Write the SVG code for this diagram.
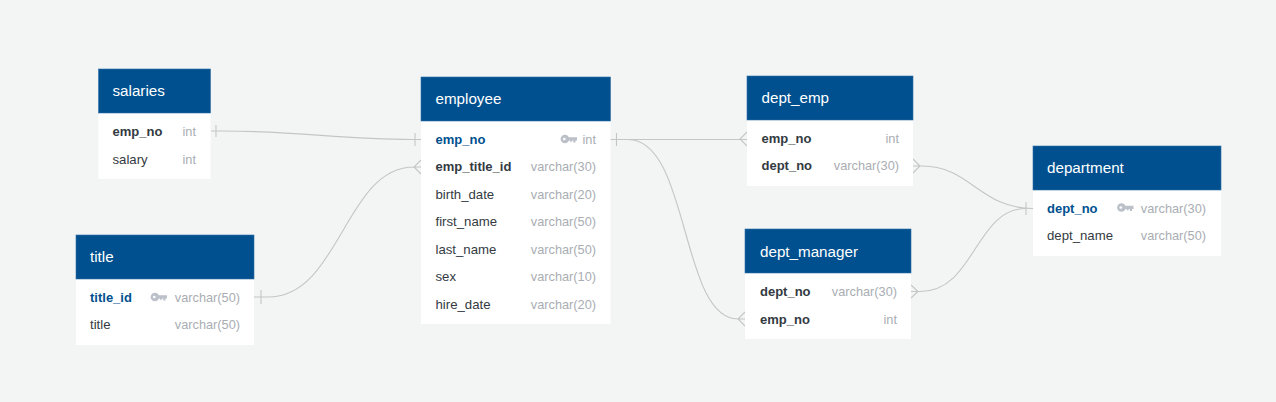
<svg xmlns="http://www.w3.org/2000/svg" width="1276" height="402" viewBox="0 0 1276 402">
<defs>
<style>
text{font-family:"Liberation Sans",Arial,sans-serif;font-size:13.2px;fill:#333a42}
.h{fill:#00508f;stroke:#2f6ea6;stroke-width:.6}
.b{fill:#fff}
.t{fill:#fff;font-size:15.2px}
.k{font-weight:bold;font-size:13px}
.p{font-weight:bold;font-size:13px;fill:#00508f}
.y{fill:#a9adb3;text-anchor:end;font-size:12.75px}
.c{fill:none;stroke:#c4c6c6;stroke-width:1.1}
.i{fill:#bcc0c8}
</style>
<g id="key"><circle cx="4.4" cy="0" r="4.300" class="i"/><circle cx="3.800" cy="0" r="1.300" fill="#fff"/><path class="i" d="M7 -1.800H16.500V1.400H15V3.400H12.800V1.400H11.600V2.800H9.600V1.400H7Z"/></g>
</defs>
<rect width="1276" height="402" fill="#f3f5f4"/>
<g id="connectors">
<path class="c" d="M211 131H222C300 131 340 139.500 412 139.500H421M216 125V137M415 133V146"/>
<path class="c" d="M254 297H268C340 297 345 167 414 167H421M261 290V304M421 160L414 167L421 174"/>
<path class="c" d="M610 139.500H747M616.500 133V146M747 132L740 139L747 146"/>
<path class="c" d="M610 139.500H628C690 139.500 680 319 738 319H745M745 312L738 319L745 326"/>
<path class="c" d="M913 166H922C970 166 980 208.500 1033 208.500M913 159L920 166L913 173M1026 202V215"/>
<path class="c" d="M911 291.500H920C975 291.500 975 208.500 1026 208.500M911 285L918 291.500L911 298"/>
</g>
<g id="salaries">
<rect class="b" x="98.500" y="69" width="112" height="110"/><rect class="h" x="98.500" y="69" width="112" height="44"/>
<text class="t" x="112.500" y="96">salaries</text>
<text class="k" x="112.500" y="136">emp_no</text><text class="y" x="196" y="136">int</text>
<text x="112.500" y="164">salary</text><text class="y" x="196" y="164">int</text>
</g>
<g id="title">
<rect class="b" x="76" y="235" width="178" height="110"/><rect class="h" x="76" y="235" width="178" height="44"/>
<text class="t" x="90" y="262">title</text>
<text class="p" x="90" y="302">title_id</text><use href="#key" x="150.500" y="297"/><text class="y" x="240" y="302">varchar(50)</text>
<text x="90" y="329">title</text><text class="y" x="240" y="329">varchar(50)</text>
</g>
<g id="employee">
<rect class="b" x="421" y="77" width="189.500" height="247"/><rect class="h" x="421" y="77" width="189.500" height="44"/>
<text class="t" x="435.500" y="104">employee</text>
<text class="p" x="435.500" y="144">emp_no</text><use href="#key" x="560.500" y="139"/><text class="y" x="596" y="144">int</text>
<text class="k" x="435.500" y="171">emp_title_id</text><text class="y" x="596" y="171">varchar(30)</text>
<text x="435.500" y="199">birth_date</text><text class="y" x="596" y="199">varchar(20)</text>
<text x="435.500" y="226">first_name</text><text class="y" x="596" y="226">varchar(50)</text>
<text x="435.500" y="254">last_name</text><text class="y" x="596" y="254">varchar(50)</text>
<text x="435.500" y="281">sex</text><text class="y" x="596" y="281">varchar(10)</text>
<text x="435.500" y="309">hire_date</text><text class="y" x="596" y="309">varchar(20)</text>
</g>
<g id="dept_emp">
<rect class="b" x="747" y="76" width="166" height="110"/><rect class="h" x="747" y="76" width="166" height="44"/>
<text class="t" x="761.500" y="103">dept_emp</text>
<text class="k" x="761.500" y="143">emp_no</text><text class="y" x="899" y="143">int</text>
<text class="k" x="761.500" y="170">dept_no</text><text class="y" x="899" y="170">varchar(30)</text>
</g>
<g id="dept_manager">
<rect class="b" x="745" y="229" width="166" height="110"/><rect class="h" x="745" y="229" width="166" height="44"/>
<text class="t" x="760" y="257">dept_manager</text>
<text class="k" x="760" y="296">dept_no</text><text class="y" x="897" y="296">varchar(30)</text>
<text class="k" x="760" y="324">emp_no</text><text class="y" x="897" y="324">int</text>
</g>
<g id="department">
<rect class="b" x="1033" y="146" width="188" height="110"/><rect class="h" x="1033" y="146" width="188" height="44"/>
<text class="t" x="1047" y="173">department</text>
<text class="p" x="1047" y="213">dept_no</text><use href="#key" x="1117" y="207.500"/><text class="y" x="1206" y="213">varchar(30)</text>
<text x="1047" y="240">dept_name</text><text class="y" x="1206" y="240">varchar(50)</text>
</g>
</svg>
